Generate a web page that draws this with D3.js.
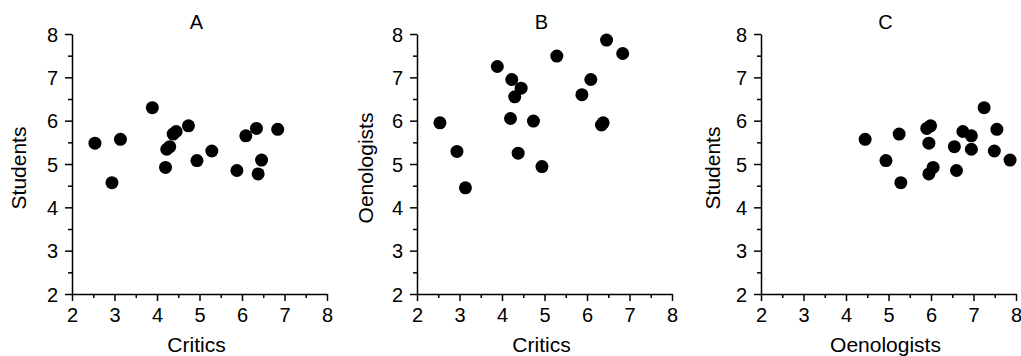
<!DOCTYPE html>
<html>
<head>
<meta charset="utf-8">
<script src="https://cdn.jsdelivr.net/npm/d3@7"></script>
<style>
  body { margin: 0; background: #fff; }
  text { font-family: "Liberation Sans", Arial, sans-serif; fill: #000; }
</style>
</head>
<body>
<div id="chart"></div>
<script>
// scores of the 18 wines, one entry per wine
const critics     = [2.54, 2.94, 3.14, 3.89, 4.20, 4.23, 4.30, 4.38, 4.45, 4.74, 4.94, 5.29, 5.88, 6.09, 6.34, 6.38, 6.46, 6.84];
const students    = [5.48, 4.57, 5.57, 6.30, 4.92, 5.34, 5.40, 5.69, 5.75, 5.88, 5.08, 5.30, 4.85, 5.65, 5.82, 4.77, 5.09, 5.80];
const oenologists = [5.95, 5.29, 4.45, 7.25, 6.05, 6.95, 6.55, 5.25, 6.75, 5.99, 4.94, 7.49, 6.60, 6.95, 5.90, 5.95, 7.86, 7.55];

const panelTitles = ['A', 'B', 'C'];
const xLabels = ['Critics', 'Critics', 'Oenologists'];
const yLabels = ['Students', 'Oenologists', 'Students'];
const xSeries = [critics, critics, oenologists];
const ySeries = [students, oenologists, students];
const majorTicks = [2, 3, 4, 5, 6, 7, 8];
const minorTicks = [2.5, 3.5, 4.5, 5.5, 6.5, 7.5];

const width = 1021;
const height = 356;

const svg = d3.select('#chart')
  .append('svg')
  .attr('width', width)
  .attr('height', height);

// left edge of each plot area and how far the y title sits from it
const lefts = [72, 417, 761];
const yTitleGap = [53, 51, 48];
const plotW = 255;
const plotTop = 34;
const plotBottom = 294;

panelTitles.forEach((title, i) => {
  const x = d3.scaleLinear().domain([2, 8]).range([lefts[i], lefts[i] + plotW]);
  const y = d3.scaleLinear().domain([2, 8]).range([plotBottom, plotTop]);

  const g = svg.append('g').attr('class', 'panel');

  // minor ticks first, then the labelled axis on top
  g.append('g')
    .attr('transform', `translate(0,${plotBottom})`)
    .call(d3.axisBottom(x).tickValues(minorTicks).tickSize(4).tickFormat(''))
    .call(a => a.select('.domain').remove());
  g.append('g')
    .attr('transform', `translate(${lefts[i]},0)`)
    .call(d3.axisLeft(y).tickValues(minorTicks).tickSize(4).tickFormat(''))
    .call(a => a.select('.domain').remove());

  const xAxis = g.append('g')
    .attr('transform', `translate(0,${plotBottom})`)
    .call(d3.axisBottom(x).tickValues(majorTicks).tickSize(7).tickSizeOuter(0).tickPadding(7).tickFormat(d3.format('d')));
  const yAxis = g.append('g')
    .attr('transform', `translate(${lefts[i]},0)`)
    .call(d3.axisLeft(y).tickValues(majorTicks).tickSize(7).tickSizeOuter(0).tickPadding(7).tickFormat(d3.format('d')));

  g.selectAll('.tick text')
    .style('font-size', '20px')
    .style('font-family', '"Liberation Sans", Arial, sans-serif');
  g.selectAll('.domain, .tick line').attr('stroke', '#000').attr('stroke-width', 1.5);
  xAxis.selectAll('.tick text').attr('dy', '0.71em');
  yAxis.selectAll('.tick text').attr('dy', '0.36em');

  // points
  g.selectAll('circle')
    .data(xSeries[i].map((v, k) => [v, ySeries[i][k]]))
    .enter()
    .append('circle')
    .attr('cx', d => x(d[0]))
    .attr('cy', d => y(d[1]))
    .attr('r', 6.5)
    .attr('fill', '#000');

  const cx = lefts[i] + plotW / 2;

  g.append('text')
    .attr('x', cx - 3)
    .attr('y', 29)
    .attr('text-anchor', 'middle')
    .style('font-size', '20px')
    .text(title);

  g.append('text')
    .attr('x', cx - 3)
    .attr('y', 352)
    .attr('text-anchor', 'middle')
    .style('font-size', '21px')
    .text(xLabels[i]);

  g.append('text')
    .attr('transform', `translate(${lefts[i] - yTitleGap[i] + 7},${(plotTop + plotBottom) / 2 + 4}) rotate(-90)`)
    .attr('text-anchor', 'middle')
    .style('font-size', '21px')
    .text(yLabels[i]);
});
</script>
</body>
</html>
